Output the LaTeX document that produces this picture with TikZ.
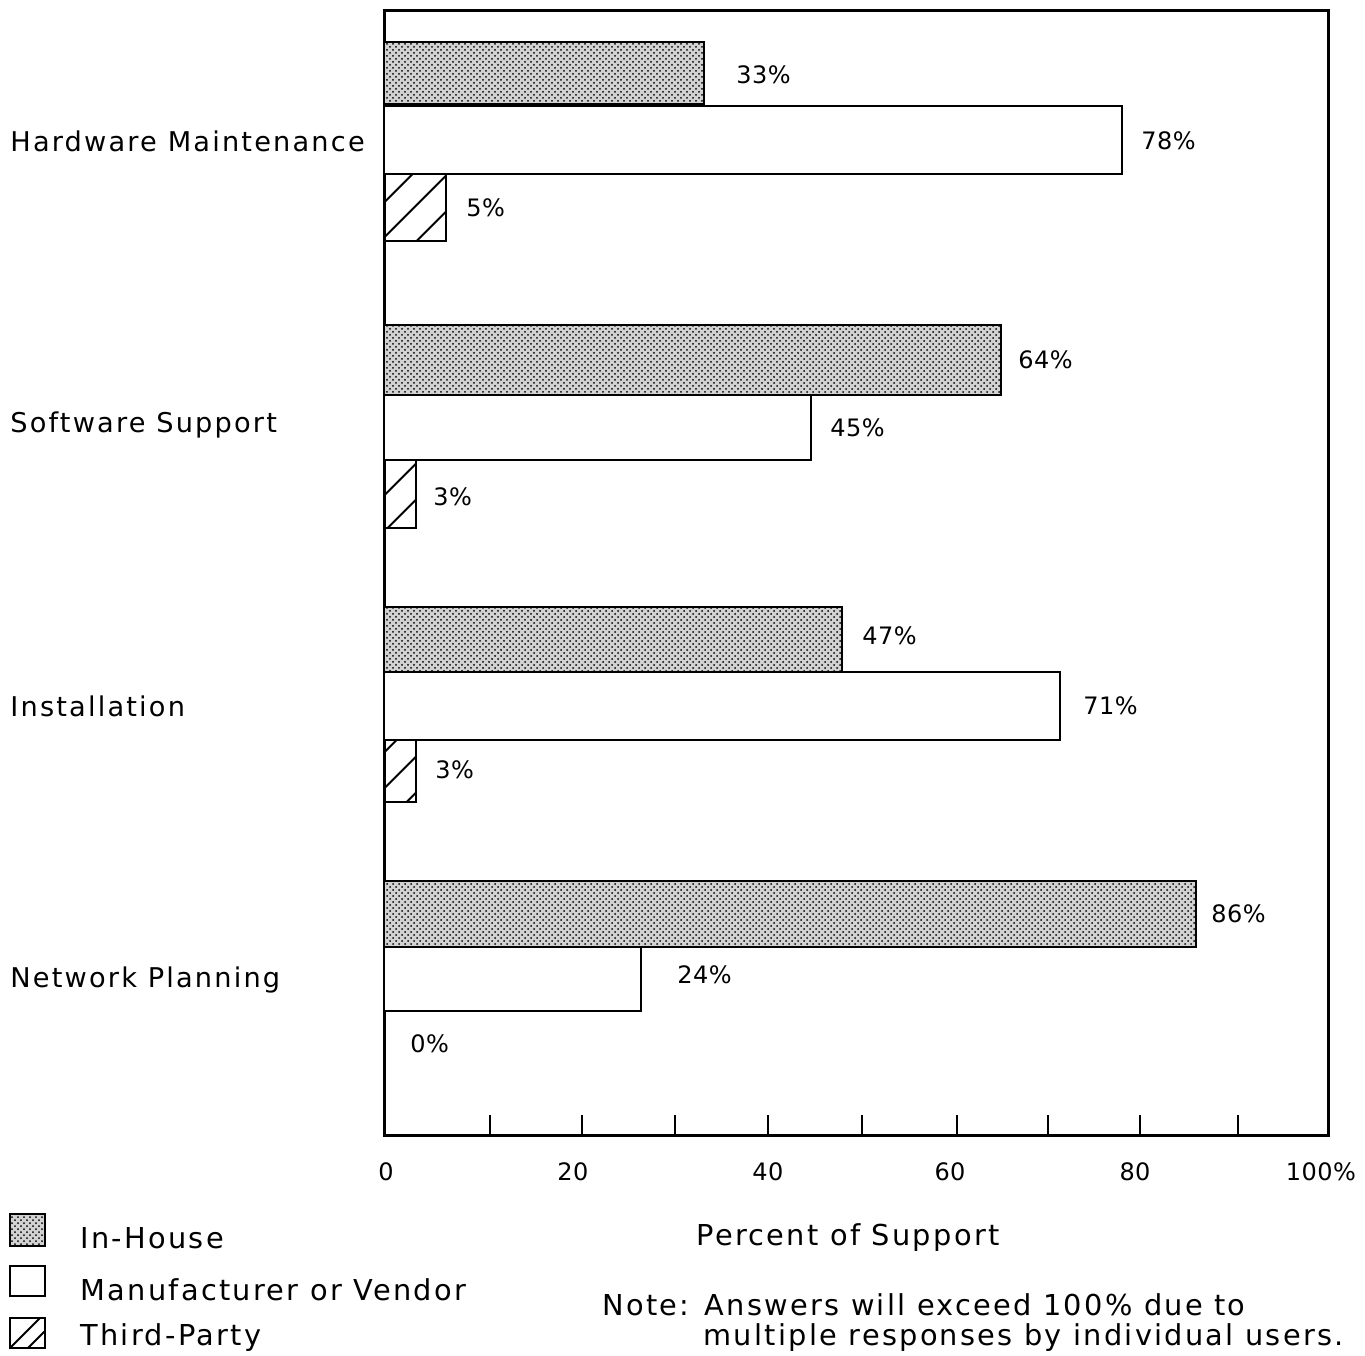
\documentclass[tikz,border=0pt]{standalone}
\usepackage{fontspec}
\setmainfont{DejaVu Sans}[LetterSpace=8]
\newfontfamily\numfont{DejaVu Sans}[LetterSpace=2]
\usetikzlibrary{patterns,patterns.meta}
\tikzstyle{axisline} = [line width=1.5pt, draw=black]
\tikzstyle{inhouse} = [draw=black, line width=1.3pt, preaction={fill=gray!35}, pattern=crosshatch dots]
\tikzstyle{vendor} = [draw=black, line width=1.3pt, fill=white]
\tikzstyle{third} = [draw=black, line width=1.3pt, pattern={Lines[angle=45,distance=13pt,line width=1.1pt]}]
\tikzstyle{catlabel} = [anchor=west, inner sep=0pt, font=\fontsize{13.6}{16}\selectfont]
\tikzstyle{pct} = [anchor=west, inner sep=0pt, font=\numfont\fontsize{12}{15}\selectfont]
\tikzstyle{ticklabel} = [inner sep=0pt, font=\numfont\fontsize{12}{15}\selectfont]
\tikzstyle{legtext} = [anchor=west, inner sep=0pt, font=\fontsize{14.4}{16}\selectfont]

\begin{document}
\begin{tikzpicture}[x=0.5pt,y=-0.5pt]
\useasboundingbox (0,0) rectangle (1365,1355);
% frame of the chart
\draw[axisline] (384,1135) -- (384,10) -- (1328,10) -- (1328,1135) -- cycle;
\foreach \tx in {490,582,675,768,862,957,1048,1140,1238}
  \draw[line width=1pt] (\tx,1135) -- (\tx,1115);
% Hardware Maintenance
\draw[inhouse] (384,42) rectangle (704,104);
\draw[vendor] (384,106) rectangle (1122,174);
\draw[third] (384,174) rectangle (446,241);
% Software Support
\draw[inhouse] (384,325) rectangle (1001,395);
\draw[vendor] (384,395) rectangle (811,460);
\draw[third] (384,460) rectangle (416,528);
% Installation
\draw[inhouse] (384,607) rectangle (842,672);
\draw[vendor] (384,672) rectangle (1060,740);
\draw[third] (384,740) rectangle (416,802);
% Network Planning
\draw[inhouse] (384,881) rectangle (1196,947);
\draw[vendor] (384,947) rectangle (641,1011);
% categories
\node (hw) [catlabel] at (10,141) {Hardware Maintenance};
\node (sw) [catlabel] at (10,425) {Software Support};
\node (inst) [catlabel] at (10,706) {Installation};
\node (net) [catlabel] at (10,980) {Network Planning};
% values
\node (hwin) [pct] at (736,75) {33\%};
\node (hwven) [pct] at (1141,141) {78\%};
\node (hwthd) [pct] at (466,208) {5\%};
\node (swin) [pct] at (1018,360) {64\%};
\node (swven) [pct] at (830,428) {45\%};
\node (swthd) [pct] at (433,497) {3\%};
\node (instin) [pct] at (862,636) {47\%};
\node (instven) [pct] at (1083,706) {71\%};
\node (instthd) [pct] at (435,770) {3\%};
\node (netin) [pct] at (1211,914) {86\%};
\node (netven) [pct] at (677,975) {24\%};
\node (netthd) [pct] at (410,1044) {0\%};
% axis
\node (t0) [ticklabel] at (386,1172) {0};
\node (t20) [ticklabel] at (573,1172) {20};
\node (t40) [ticklabel] at (768,1172) {40};
\node (t60) [ticklabel] at (950,1172) {60};
\node (t80) [ticklabel] at (1135,1172) {80};
\node (t100) [ticklabel] at (1321,1172) {100\%};
\node (xtitle) [legtext, anchor=center] at (848,1238) {Percent of Support};
\node (note1) [legtext] at (602,1305) {Note: Answers will exceed 100\% due to};
\node (note2) [legtext] at (703,1338) {multiple responses by individual users.};
% legend
\draw[inhouse, line width=1pt] (10,1214) rectangle (45,1246);
\draw[vendor, line width=1pt] (10,1266) rectangle (45,1296);
\draw[line width=1pt] (10,1318) rectangle (45,1348);
\draw[line width=1pt] (10,1348) -- (40,1318) (28,1348) -- (45,1331);
\node (leg1) [legtext] at (80,1238) {In-House};
\node (leg2) [legtext] at (80,1290) {Manufacturer or Vendor};
\node (leg3) [legtext] at (80,1338) {Third-Party};
\end{tikzpicture}
\end{document}
